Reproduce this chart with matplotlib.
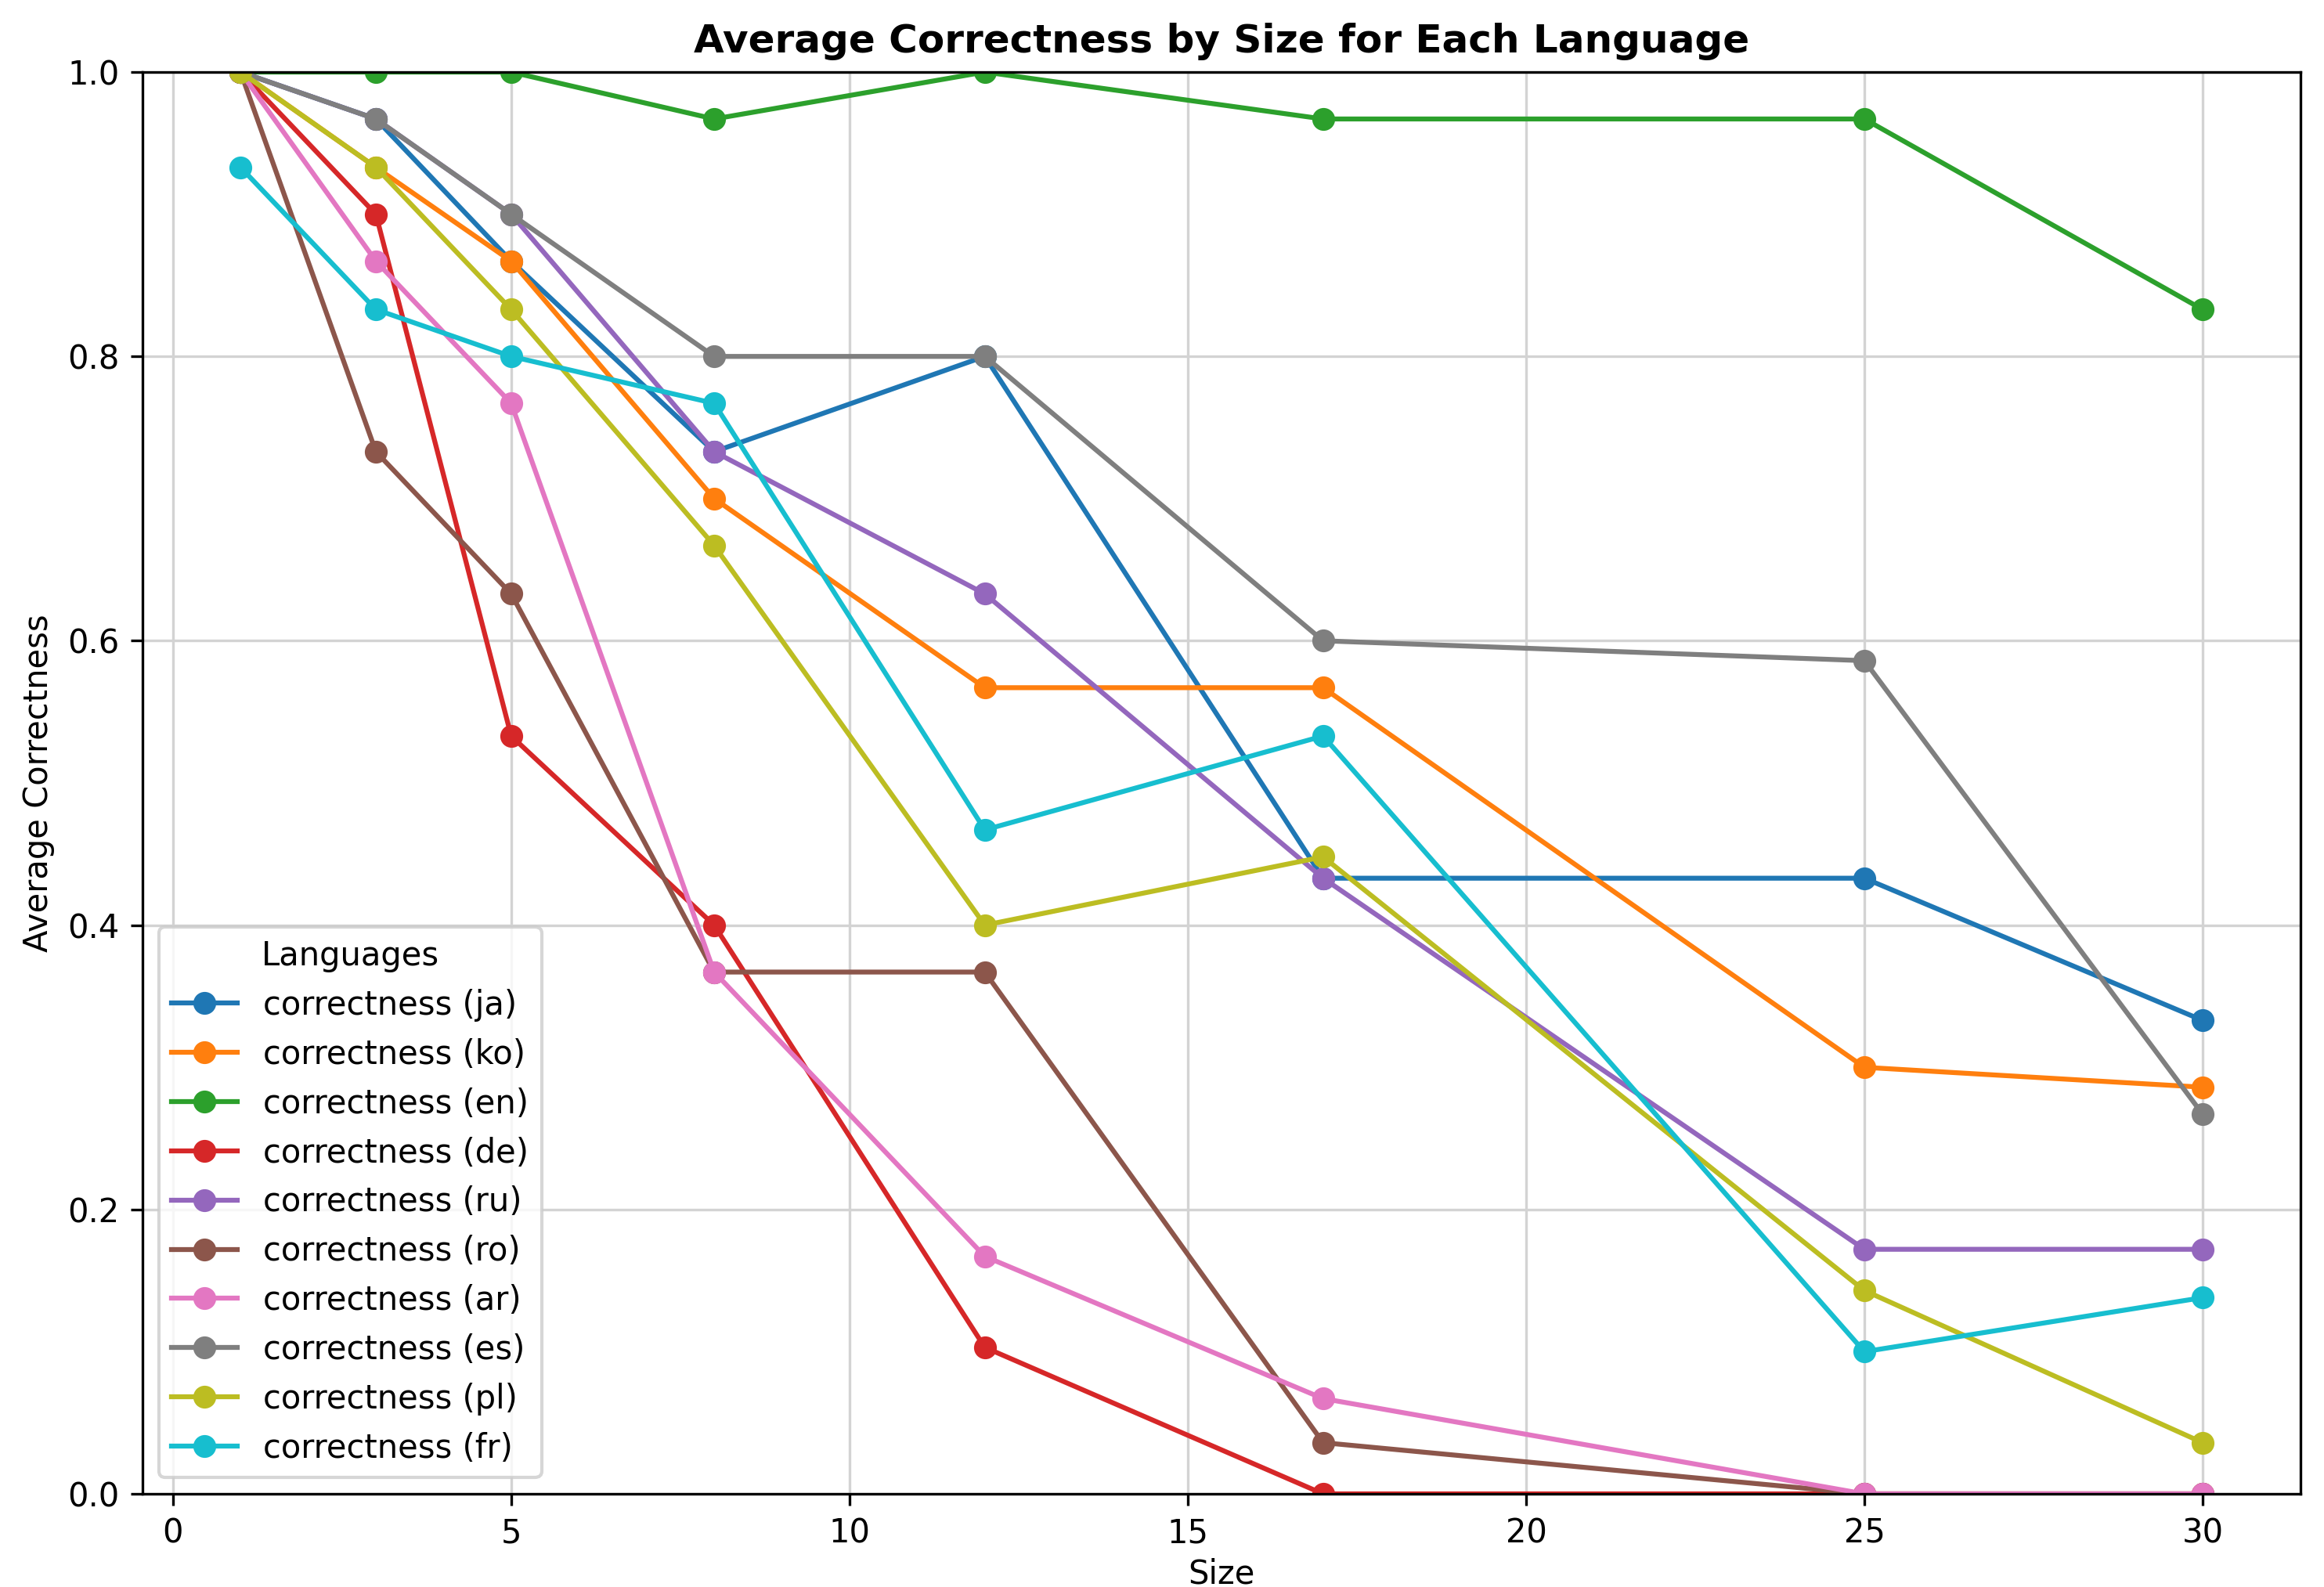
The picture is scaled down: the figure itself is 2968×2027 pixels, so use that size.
#!/usr/bin/env python3

import matplotlib.pyplot as plt

# Sizes tested
sizes = [1, 3, 5, 8, 12, 17, 25, 30]

# Average correctness per language
ja = [1.0, 0.967, 0.867, 0.733, 0.8, 0.433, 0.433, 0.333]
ko = [1.0, 0.933, 0.867, 0.7, 0.567, 0.567, 0.3, 0.286]
en = [1.0, 1.0, 1.0, 0.967, 1.0, 0.967, 0.967, 0.833]
de = [1.0, 0.9, 0.533, 0.4, 0.103, 0.0, 0.0, 0.0]
ru = [1.0, 0.967, 0.9, 0.733, 0.633, 0.433, 0.172, 0.172]
ro = [1.0, 0.733, 0.633, 0.367, 0.367, 0.036, 0.0, 0.0]
ar = [1.0, 0.867, 0.767, 0.367, 0.167, 0.067, 0.0, 0.0]
es = [1.0, 0.967, 0.9, 0.8, 0.8, 0.6, 0.586, 0.267]
pl = [1.0, 0.933, 0.833, 0.667, 0.4, 0.448, 0.143, 0.036]
fr = [0.933, 0.833, 0.8, 0.767, 0.467, 0.533, 0.1, 0.138]

languages = ["ja", "ko", "en", "de", "ru", "ro", "ar", "es", "pl", "fr"]
series = [ja, ko, en, de, ru, ro, ar, es, pl, fr]


def main():
    dpi = 300
    fig, ax = plt.subplots(figsize=(2968 / dpi, 2027 / dpi), dpi=dpi)

    for lang, values in zip(languages, series):
        ax.plot(sizes, values, marker="o", label=f"correctness ({lang})")

    ax.set_title("Average Correctness by Size for Each Language", fontweight="bold", fontsize=12)
    ax.set_xlabel("Size", labelpad=2.5)
    ax.set_ylabel("Average Correctness")
    ax.set_ylim(0, 1.0)
    ax.grid(True, color="#d3d3d3")
    ax.legend(title="Languages", loc="lower left")

    fig.subplots_adjust(left=0.0613, right=0.99, top=0.9546, bottom=0.0587)
    fig.savefig("out.png", dpi=dpi)


if __name__ == "__main__":
    main()
